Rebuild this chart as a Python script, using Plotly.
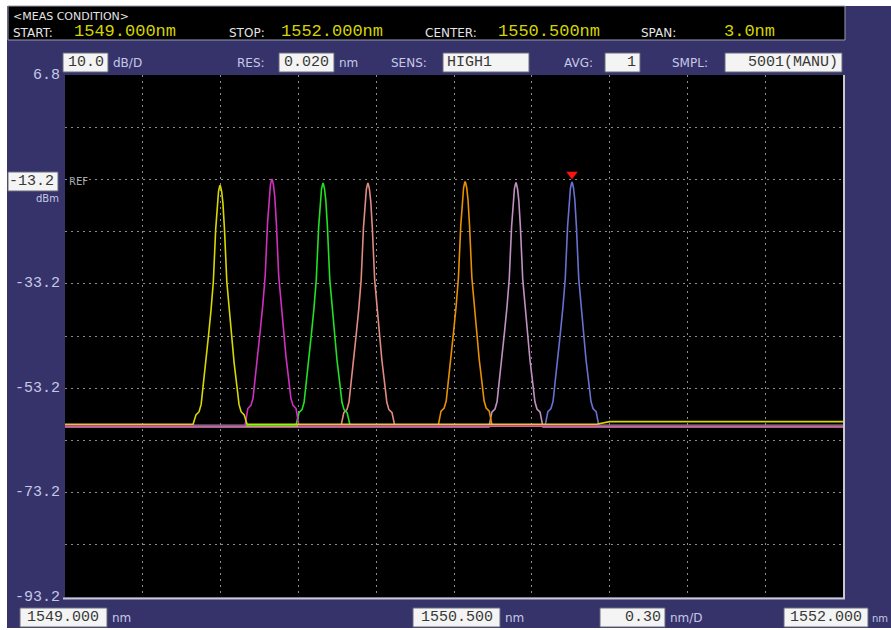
import plotly.graph_objects as go

# ---------------- data ----------------
CHANNEL_NAMES = ["ch1", "ch2", "ch3", "ch4", "ch5", "ch6", "ch7"]
CHANNEL_COLORS = ["#d8d800", "#d030c0", "#22e022", "#e08a80", "#e89000", "#c090c0", "#6a70d0"]
CENTER_NM = [1549.598, 1549.798, 1549.995, 1550.168, 1550.543, 1550.739, 1550.955]
PEAK_DBM = [-14.3, -13.1, -13.9, -13.9, -13.6, -13.8, -13.7]
BASELINE_DBM = [-60.1, -60.4, -60.3, -60.5, -60.4, -60.6, -60.5]

# measured peak profile (offset from centre in nm, level below peak in dB)
PROFILE_OFFSET_NM = [-0.093, -0.081, -0.073, -0.066, -0.054, -0.045, -0.035, -0.026, -0.017,
                     -0.011, -0.006, -0.002, 0.0, 0.002, 0.006, 0.011, 0.017, 0.026, 0.035,
                     0.045, 0.054, 0.066, 0.073, 0.081, 0.093]
PROFILE_DROP_DB = [44.0, 43.4, 42.0, 39.0, 34.0, 29.0, 24.0, 18.5, 8.5,
                   3.5, 1.2, 0.3, 0.0, 0.3, 1.2, 3.5, 8.5, 18.5, 24.0,
                   29.0, 34.0, 39.0, 42.0, 43.4, 44.0]
PROFILE_EDGE_NM = 0.104

# upper yellow baseline segment on the right of the span
CH1_STEP_NM = [1551.05, 1551.10]
CH1_STEP_DBM = [-60.1, -59.6]

SPAN_START, SPAN_STOP = 1549.000, 1552.000
Y_TOP, Y_BOTTOM = 6.8, -93.2
X_DIV, Y_DIV = 0.3, 10.0
MARKER_NM, MARKER_DBM = 1550.955, -12.2

Y_TICK_LABELS = ["6.8", "-33.2", "-53.2", "-73.2", "-93.2"]
Y_TICK_VALUES = [6.8, -33.2, -53.2, -73.2, -93.2]

# ---------------- figure ----------------
W, H = 891, 630
NAVY = "#35336a"
LABEL = "#c8c8e6"
YELLOW = "#d4d400"
MONO = "Liberation Mono"
SANS = "DejaVu Sans"


def X(px):
    return px / W


def Y(py):
    return 1 - py / H


PLOT_L, PLOT_R, PLOT_T, PLOT_B = 65, 843, 75, 597

fig = go.Figure()

order = [6, 5, 4, 3, 2, 1, 0]
for i in order:
    c = CENTER_NM[i]
    xs = [SPAN_START, c - PROFILE_EDGE_NM]
    ys = [BASELINE_DBM[i], BASELINE_DBM[i]]
    for o, d in zip(PROFILE_OFFSET_NM, PROFILE_DROP_DB):
        xs.append(c + o)
        ys.append(PEAK_DBM[i] - d)
    xs.append(c + PROFILE_EDGE_NM)
    ys.append(BASELINE_DBM[i])
    if i == 0:
        xs += CH1_STEP_NM + [SPAN_STOP]
        ys += CH1_STEP_DBM + [CH1_STEP_DBM[-1]]
    else:
        xs.append(SPAN_STOP)
        ys.append(BASELINE_DBM[i])
    fig.add_trace(go.Scatter(x=xs, y=ys, mode="lines", name=CHANNEL_NAMES[i],
                             line=dict(color=CHANNEL_COLORS[i], width=1.6),
                             hoverinfo="skip", showlegend=False))

fig.add_trace(go.Scatter(x=[MARKER_NM], y=[MARKER_DBM], mode="markers",
                         marker=dict(symbol="triangle-down", color="#ff1010", size=10,
                                     line=dict(width=0)),
                         showlegend=False, hoverinfo="skip"))

shapes = []
annotations = []


def rect(x0, y0, x1, y1, fill, line=None, lw=1, layer="above"):
    shapes.append(dict(type="rect", xref="paper", yref="paper",
                       x0=X(x0), x1=X(x1), y0=Y(y1), y1=Y(y0),
                       fillcolor=fill, line=dict(color=line or fill, width=lw if line else 0),
                       layer=layer))


def line(x0, y0, x1, y1, color, lw):
    shapes.append(dict(type="line", xref="paper", yref="paper",
                       x0=X(x0), x1=X(x1), y0=Y(y0), y1=Y(y1),
                       line=dict(color=color, width=lw)))


def txt(x, y, s, color=LABEL, size=12, anchor="left", family=SANS):
    annotations.append(dict(x=X(x), y=Y(y), xref="paper", yref="paper", text=s,
                            showarrow=False, xanchor=anchor, yanchor="middle",
                            font=dict(color=color, size=size, family=family),
                            borderpad=0))


def box(x0, y0, x1, y1, s, align="center"):
    rect(x0, y0, x1, y1, "#f4f4f4", "#6a6a7a", 1)
    if align == "left":
        txt(x0 + 3, (y0 + y1) / 2, s, "#383838", 15, "left", MONO)
    elif align == "right":
        txt(x1 - 3, (y0 + y1) / 2, s, "#383838", 15, "right", MONO)
    else:
        txt((x0 + x1) / 2, (y0 + y1) / 2, s, "#383838", 15, "center", MONO)


# white page edges
rect(0, 0, 891, 6, "white")
rect(0, 0, 7, 630, "white")
rect(0, 628, 891, 630, "white")

# header box
rect(8, 6, 845, 40, "black", "#9a9ab0", 1)
txt(12, 16, "&lt;MEAS CONDITION&gt;", "#e4e4e4", 11)
txt(12, 33, "START:", "#e4e4e4", 12)
txt(73, 31, "1549.000nm", YELLOW, 17, family=MONO)
txt(228, 33, "STOP:", "#e4e4e4", 12)
txt(280, 31, "1552.000nm", YELLOW, 17, family=MONO)
txt(424, 33, "CENTER:", "#e4e4e4", 12)
txt(497, 31, "1550.500nm", YELLOW, 17, family=MONO)
txt(640, 33, "SPAN:", "#e4e4e4", 12)
txt(723, 31, "3.0nm", YELLOW, 17, family=MONO)

# settings row
box(63, 53, 108, 72, "10.0")
txt(112, 63, "dB/D", LABEL, 12)
txt(236, 63, "RES:", LABEL, 12)
box(279, 53, 334, 72, "0.020")
txt(338, 63, "nm", LABEL, 12)
txt(390, 63, "SENS:", LABEL, 12)
box(443, 53, 529, 72, "HIGH1", "left")
txt(563, 63, "AVG:", LABEL, 12)
box(605, 53, 640, 72, "1", "right")
txt(671, 63, "SMPL:", LABEL, 12)
box(725, 53, 842, 72, "5001(MANU)", "right")

# y labels
for v, s in zip(Y_TICK_VALUES, Y_TICK_LABELS):
    py = PLOT_T + (Y_TOP - v) / (Y_TOP - Y_BOTTOM) * (PLOT_B - PLOT_T)
    txt(61, py, s, LABEL, 15, "right", MONO)
box(8, 172, 58, 191, "-13.2", "right")
txt(60, 198, "dBm", LABEL, 10, "right")
txt(68, 181, "REF", "#a8a8a8", 10)

# bottom labels
box(20, 608, 107, 627, "1549.000")
txt(111, 618, "nm", LABEL, 12)
box(413, 608, 500, 627, "1550.500")
txt(504, 618, "nm", LABEL, 12)
box(600, 608, 665, 627, "0.30", "right")
txt(669, 618, "nm/D", LABEL, 12)
box(784, 608, 868, 627, "1552.000")
txt(871, 618, "nm", LABEL, 10)

# plot frame lines
line(63, 598.5, 845, 598.5, "#c8c8d0", 2)
line(844, 75, 844, 599, "#c8c8d0", 2)

fig.update_layout(
    width=W, height=H, margin=dict(l=0, r=0, t=0, b=0),
    paper_bgcolor=NAVY, plot_bgcolor="black",
    shapes=shapes, annotations=annotations,
    xaxis=dict(domain=[X(PLOT_L), X(PLOT_R)], range=[SPAN_START, SPAN_STOP],
               tick0=SPAN_START, dtick=X_DIV, showgrid=True, gridcolor="#8c8c8c",
               griddash="2px,4px", gridwidth=1, showticklabels=False, ticks="",
               zeroline=False, showline=False, fixedrange=True),
    yaxis=dict(domain=[Y(PLOT_B), Y(PLOT_T)], range=[Y_BOTTOM, Y_TOP],
               tick0=Y_TOP, dtick=Y_DIV, showgrid=True, gridcolor="#8c8c8c",
               griddash="2px,4px", gridwidth=1, showticklabels=False, ticks="",
               zeroline=False, showline=False, fixedrange=True),
    showlegend=False,
)

fig.write_html("out.html")
